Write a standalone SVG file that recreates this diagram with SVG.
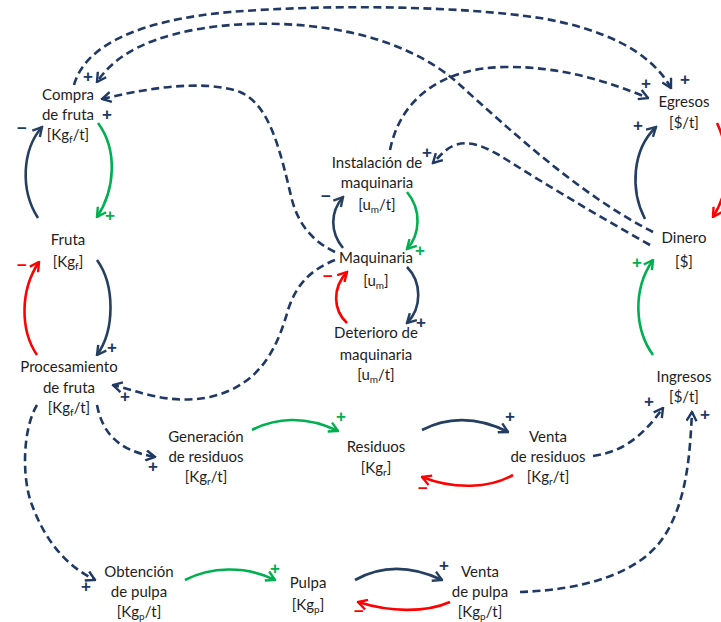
<svg xmlns="http://www.w3.org/2000/svg" width="721" height="622" viewBox="0 0 721 622">
<defs>
<style>
.t{font-family:Lato,"Open Sans","Liberation Sans",sans-serif;font-size:15px;fill:#1e1e1e;text-anchor:middle}
.s{font-size:10px}
.d{fill:none;stroke:#1F3864;stroke-width:2.6;stroke-dasharray:8 4.5}
.n{fill:none;stroke:#253F61;stroke-width:2.6}
.g{fill:none;stroke:#00B050;stroke-width:2.6}
.r{fill:none;stroke:#FF0000;stroke-width:2.6}
.sg{font-family:"Liberation Sans",Arial,sans-serif;font-size:17px;font-weight:bold;text-anchor:middle}
.sn{fill:#1F3864}.sgr{fill:#00B050}.sr{fill:#FF0000}
</style>
<marker id="mD" viewBox="0 0 12 12" refX="10.5" refY="6" markerWidth="12" markerHeight="12" markerUnits="userSpaceOnUse" orient="auto"><path d="M1.5,1 L10.5,6 L1.5,11" fill="none" stroke="#1F3864" stroke-width="2.4"/></marker>
<marker id="mN" viewBox="0 0 12 12" refX="10.5" refY="6" markerWidth="12" markerHeight="12" markerUnits="userSpaceOnUse" orient="auto"><path d="M1.5,1 L10.5,6 L1.5,11" fill="none" stroke="#253F61" stroke-width="2.4"/></marker>
<marker id="mG" viewBox="0 0 12 12" refX="10.5" refY="6" markerWidth="12" markerHeight="12" markerUnits="userSpaceOnUse" orient="auto"><path d="M1.5,1 L10.5,6 L1.5,11" fill="none" stroke="#00B050" stroke-width="2.4"/></marker>
<marker id="mR" viewBox="0 0 12 12" refX="10.5" refY="6" markerWidth="12" markerHeight="12" markerUnits="userSpaceOnUse" orient="auto"><path d="M1.5,1 L10.5,6 L1.5,11" fill="none" stroke="#FF0000" stroke-width="2.4"/></marker>
</defs>
<rect width="721" height="622" fill="#ffffff"/>

<g id="connectors">
<!-- dashed -->
<path class="d" marker-end="url(#mD)" d="M74,85 C85,45 140,20 230,12 C330,4 460,6 540,18 C600,28 650,50 671,88"/>
<path class="d" marker-end="url(#mD)" d="M653,232 C580,195 510,130 460,85 C400,30 300,18 220,26 C150,34 115,55 97,82"/>
<path class="d" marker-end="url(#mD)" d="M650,245 C600,217 550,187 507,160 C485,146 470,140 455,145 C445,149 440,156 433,163"/>
<path class="d" marker-end="url(#mD)" d="M390,150 C400,100 440,68 505,67 C560,66 610,82 648,98"/>
<path class="d" marker-end="url(#mD)" d="M335,252 C310,240 298,222 292,200 C280,150 270,105 240,92 C200,78 140,90 102,99"/>
<path class="d" marker-end="url(#mD)" d="M335,260 C310,270 296,285 288,310 C278,345 262,385 210,397 C170,405 140,392 113,385"/>
<path class="d" marker-end="url(#mD)" d="M97,405 C102,430 115,450 155,457"/>
<path class="d" marker-end="url(#mD)" d="M37,405 C22,430 22,480 32,505 C45,540 65,565 95,580"/>
<path class="d" marker-end="url(#mD)" d="M593,456 C620,452 640,440 663,408"/>
<path class="d" marker-end="url(#mD)" d="M520,592 C580,590 640,575 665,535 C688,498 690,450 692,412"/>
<!-- solid -->
<path class="n" marker-end="url(#mN)" d="M38,218 C20,190 22,150 42,127"/>
<path class="g" marker-end="url(#mG)" d="M98,123 C118,150 115,190 97,217"/>
<path class="n" marker-end="url(#mN)" d="M97,260 C115,285 115,330 97,355"/>
<path class="r" marker-end="url(#mR)" d="M37,355 C20,330 20,290 39,262"/>
<path class="n" marker-end="url(#mN)" d="M343,248 C330,232 330,212 343,197"/>
<path class="g" marker-end="url(#mG)" d="M407,192 C422,210 420,235 407,249"/>
<path class="n" marker-end="url(#mN)" d="M407,267 C422,282 422,308 407,323"/>
<path class="r" marker-end="url(#mR)" d="M347,323 C333,310 332,288 347,272"/>
<path class="n" marker-end="url(#mN)" d="M645,219 C630,190 632,150 656,127"/>
<path class="r" marker-end="url(#mR)" d="M717,123 C732,155 730,190 713,217"/>
<path class="g" marker-end="url(#mG)" d="M653,355 C635,330 632,290 653,260"/>
<path class="g" marker-end="url(#mG)" d="M252,430 C275,418 305,415 338,431"/>
<path class="n" marker-end="url(#mN)" d="M422,430 C445,418 475,415 508,432"/>
<path class="r" marker-end="url(#mR)" d="M513,475 C490,488 455,490 422,477"/>
<path class="g" marker-end="url(#mG)" d="M185,580 C210,567 245,565 275,580"/>
<path class="n" marker-end="url(#mN)" d="M355,580 C380,566 410,565 442,580"/>
<path class="r" marker-end="url(#mR)" d="M450,602 C425,613 390,612 358,602"/>
<!-- signs -->
<g class="sg sn">
<text x="88" y="82">+</text>
<text x="107" y="120">+</text>
<text x="22" y="134">−</text>
<text x="112" y="353">+</text>
<text x="125" y="402">+</text>
<text x="153" y="472">+</text>
<text x="86" y="592">+</text>
<text x="326" y="202">−</text>
<text x="421" y="328">+</text>
<text x="427" y="158">+</text>
<text x="646" y="89">+</text>
<text x="685" y="85">+</text>
<text x="638" y="131">+</text>
<text x="649" y="407">+</text>
<text x="705" y="420">+</text>
<text x="510" y="422">+</text>
<text x="444" y="571">+</text>
</g>
<g class="sg sgr">
<text x="110" y="221">+</text>
<text x="420" y="256">+</text>
<text x="637" y="268">+</text>
<text x="341" y="422">+</text>
<text x="275" y="574">+</text>
</g>
<g class="sg sr">
<text x="22" y="271">−</text>
<text x="328" y="282">−</text>
<text x="423" y="494">−</text>
<text x="359" y="617">−</text>
</g>
</g>

<g id="compra">
<text class="t" x="68" y="100">Compra</text>
<text class="t" x="68" y="120">de fruta</text>
<text class="t" x="68" y="140">[Kg<tspan class="s" dy="3">f</tspan><tspan dy="-3">/t]</tspan></text>
</g>
<g id="fruta">
<text class="t" x="68" y="245">Fruta</text>
<text class="t" x="68" y="267">[Kg<tspan class="s" dy="3">f</tspan><tspan dy="-3">]</tspan></text>
</g>
<g id="procesamiento">
<text class="t" x="69" y="372">Procesamiento</text>
<text class="t" x="69" y="393">de fruta</text>
<text class="t" x="69" y="413">[Kg<tspan class="s" dy="3">f</tspan><tspan dy="-3">/t]</tspan></text>
</g>
<g id="instalacion">
<text class="t" x="377" y="168">Instalación de</text>
<text class="t" x="377" y="188">maquinaria</text>
<text class="t" x="377" y="210">[u<tspan class="s" dy="3">m</tspan><tspan dy="-3">/t]</tspan></text>
</g>
<g id="maquinaria">
<text class="t" x="376" y="263">Maquinaria</text>
<text class="t" x="376" y="286">[u<tspan class="s" dy="3">m</tspan><tspan dy="-3">]</tspan></text>
</g>
<g id="deterioro">
<text class="t" x="376" y="338">Deterioro de</text>
<text class="t" x="376" y="360">maquinaria</text>
<text class="t" x="376" y="380">[u<tspan class="s" dy="3">m</tspan><tspan dy="-3">/t]</tspan></text>
</g>
<g id="egresos">
<text class="t" x="684" y="107">Egresos</text>
<text class="t" x="684" y="128">[$/t]</text>
</g>
<g id="dinero">
<text class="t" x="684" y="243">Dinero</text>
<text class="t" x="684" y="267">[$]</text>
</g>
<g id="ingresos">
<text class="t" x="684" y="382">Ingresos</text>
<text class="t" x="684" y="402">[$/t]</text>
</g>
<g id="generacion">
<text class="t" x="206" y="442">Generación</text>
<text class="t" x="206" y="462">de residuos</text>
<text class="t" x="206" y="482">[Kg<tspan class="s" dy="3">r</tspan><tspan dy="-3">/t]</tspan></text>
</g>
<g id="residuos">
<text class="t" x="376" y="452">Residuos</text>
<text class="t" x="376" y="473">[Kg<tspan class="s" dy="3">r</tspan><tspan dy="-3">]</tspan></text>
</g>
<g id="venta-residuos">
<text class="t" x="548" y="442">Venta</text>
<text class="t" x="548" y="462">de residuos</text>
<text class="t" x="548" y="482">[Kg<tspan class="s" dy="3">r</tspan><tspan dy="-3">/t]</tspan></text>
</g>
<g id="obtencion">
<text class="t" x="139" y="577">Obtención</text>
<text class="t" x="139" y="597">de pulpa</text>
<text class="t" x="139" y="617">[Kg<tspan class="s" dy="3">p</tspan><tspan dy="-3">/t]</tspan></text>
</g>
<g id="pulpa">
<text class="t" x="308" y="588">Pulpa</text>
<text class="t" x="308" y="610">[Kg<tspan class="s" dy="3">p</tspan><tspan dy="-3">]</tspan></text>
</g>
<g id="venta-pulpa">
<text class="t" x="480" y="577">Venta</text>
<text class="t" x="480" y="597">de pulpa</text>
<text class="t" x="480" y="617">[Kg<tspan class="s" dy="3">p</tspan><tspan dy="-3">/t]</tspan></text>
</g>
</svg>
